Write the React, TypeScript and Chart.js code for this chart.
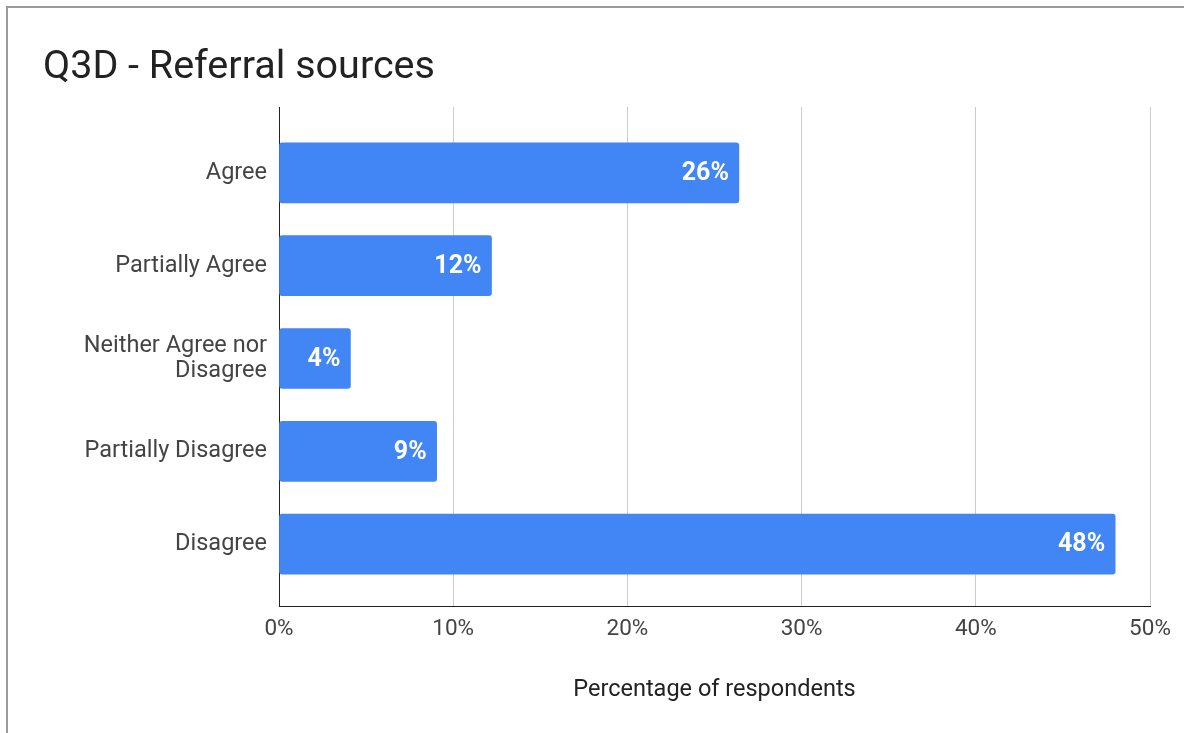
import React, { useEffect, useRef } from "react";
import { Chart, registerables } from "chart.js";

Chart.register(...registerables);

const chartTitle = "Q3D - Referral sources";
const categories = [
  "Agree",
  "Partially Agree",
  "Neither Agree nor Disagree",
  "Partially Disagree",
  "Disagree",
];
const categoryTickLabels: (string | string[])[] = [
  "Agree",
  "Partially Agree",
  ["Neither Agree nor", "Disagree"],
  "Partially Disagree",
  "Disagree",
];
const percentValues = [26.4, 12.2, 4.1, 9.05, 48.0];
const xTickValues = [0, 10, 20, 30, 40, 50];
const xAxisTitle = "Percentage of respondents";

const barLabelPlugin = {
  id: "barLabels",
  afterDatasetsDraw(chart: any) {
    const ctx = chart.ctx;
    const meta = chart.getDatasetMeta(0);
    ctx.save();
    ctx.fillStyle = "#ffffff";
    ctx.font = "bold 25px Roboto";
    ctx.textAlign = "right";
    ctx.textBaseline = "middle";
    meta.data.forEach((el: any, i: number) => {
      const v = percentValues[i];
      ctx.fillText(`${Math.round(v)}%`, el.x - 10, el.y + 1);
    });
    ctx.restore();
  },
};

export default function App() {
  const canvasRef = useRef<HTMLCanvasElement | null>(null);

  useEffect(() => {
    if (!canvasRef.current) return;
    Chart.defaults.font.family = "Roboto";
    const chart = new Chart(canvasRef.current, {
      type: "bar",
      data: {
        datasets: [
          {
            label: "Percentage",
            data: percentValues.map((v, i) => ({ x: v, y: i })),
            backgroundColor: "#4285F4",
            borderWidth: 0,
            borderRadius: 3,
            borderSkipped: false,
            barThickness: 60,
          },
        ],
      },
      plugins: [barLabelPlugin],
      options: {
        indexAxis: "y",
        responsive: false,
        animation: false,
        layout: { padding: { left: 43, right: 34, top: 0, bottom: 0 } },
        plugins: {
          legend: { display: false },
          tooltip: { enabled: false },
          title: {
            display: true,
            text: chartTitle,
            align: "start",
            color: "#222222",
            font: { size: 39.5, weight: "normal", family: "Roboto", lineHeight: 1.2 },
            padding: { top: 44, bottom: 15.6 },
          },
        },
        scales: {
          x: {
            type: "linear",
            position: "bottom",
            min: 0,
            max: 50,
            afterFit: (scale: any) => {
              scale.height = 127;
            },
            afterBuildTicks: (scale: any) => {
              scale.ticks = xTickValues.map((v) => ({ value: v }));
            },
            grid: { color: "#cccccc", lineWidth: 1, drawTicks: false },
            border: { display: true, color: "#222222", width: 1 },
            ticks: {
              padding: 10,
              color: "#444444",
              font: { size: 22.5, family: "Roboto" },
              callback: (v: any) => `${v}%`,
            },
            title: {
              display: true,
              text: xAxisTitle,
              color: "#222222",
              font: { size: 23.5, family: "Roboto" },
              padding: { top: 0, bottom: 29 },
            },
          },
          y: {
            type: "linear",
            reverse: true,
            offset: false,
            min: -0.71,
            max: 4.667,
            afterFit: (scale: any) => {
              scale.width = 236;
            },
            afterBuildTicks: (scale: any) => {
              scale.ticks = categories.map((_, i) => ({ value: i }));
            },
            grid: { display: false, drawTicks: false },
            border: { display: true, color: "#222222", width: 1 },
            ticks: {
              padding: 12,
              color: "#444444",
              font: { size: 23.5, family: "Roboto", lineHeight: 1.08 },
              callback: (v: any) => categoryTickLabels[v as number] ?? "",
            },
          },
        },
      } as any,
    });
    return () => chart.destroy();
  }, []);

  return (
    <div style={{ position: "absolute", left: 0, top: 0, width: 1184, height: 733, background: "#fff", overflow: "hidden" }}>
      <canvas ref={canvasRef} width={1184} height={733} style={{ display: "block" }} />
      <div
        style={{
          position: "absolute",
          left: 6,
          top: 6,
          right: 0,
          bottom: 0,
          borderLeft: "2px solid #9a9a9a",
          borderTop: "2px solid #9a9a9a",
          pointerEvents: "none",
        }}
      />
    </div>
  );
}
